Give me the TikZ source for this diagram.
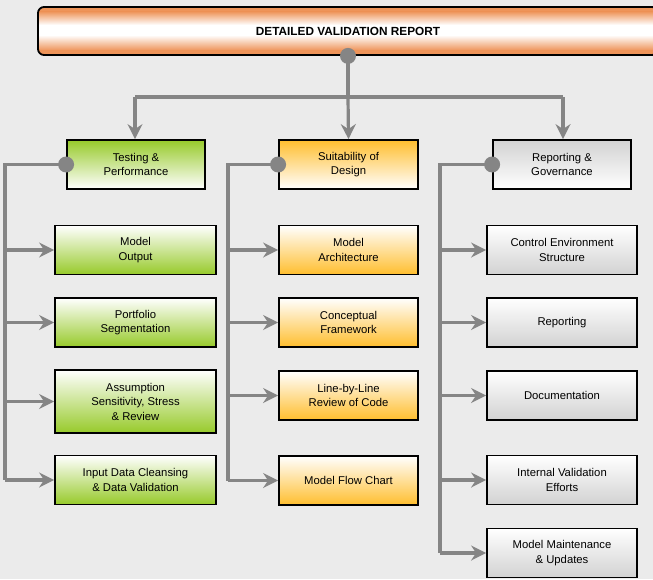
\documentclass[tikz,border=0pt]{standalone}
\usepackage{fontspec}
\setmainfont{Liberation Sans}
\usetikzlibrary{arrows.meta}
\definecolor{bg}{HTML}{EBEBEB}
\definecolor{lnk}{HTML}{858585}
\definecolor{orng}{HTML}{EE9459}
\definecolor{grn}{HTML}{97CA2A}
\definecolor{gold}{HTML}{FFBE2E}
\definecolor{gry}{HTML}{D2D2D2}
\tikzset{
  box/.style={draw=black, line width=1.8pt, minimum height=49pt, align=center, font=\fontsize{11.3}{14.5}\selectfont, inner sep=1pt},
  hgreen/.style={box, top color=grn, bottom color=white, minimum width=138pt},
  cgreen/.style={box, top color=white, bottom color=grn, minimum width=161pt},
  horange/.style={box, top color=gold, bottom color=white, minimum width=139pt},
  corange/.style={box, top color=white, bottom color=gold, minimum width=139pt},
  hgray/.style={box, top color=gry, bottom color=white, minimum width=138pt},
  cgray/.style={box, top color=white, bottom color=gry, minimum width=150pt},
  link/.style={draw=lnk, line width=3.2pt, -{Stealth[length=15pt,width=15pt,inset=5pt]}},
  plain/.style={draw=lnk, line width=3.2pt},
  dot/.style={circle, fill=lnk, minimum size=16pt, inner sep=0pt}
}
\begin{document}
\begin{tikzpicture}[x=1pt,y=-1pt]
\fill[bg] (0,0) rectangle (653,579);
\useasboundingbox (0,0) rectangle (653,579);
% top box shading
\begin{scope}
  \clip[rounded corners=6pt] (38,7) rectangle (658,55);
  \fill[orng] (38,7) rectangle (658,12);
  \shade[top color=orng, bottom color=white] (38,11.5) rectangle (658,25);
  \fill[white] (38,24.5) rectangle (658,35.5);
  \shade[top color=white, bottom color=orng] (38,35) rectangle (658,50.5);
  \fill[orng] (38,50) rectangle (658,55);
\end{scope}
\node[draw=black, line width=1.8pt, rounded corners=6pt, minimum width=620pt, minimum height=48pt,
  font=\bfseries\fontsize{11.8}{14}\selectfont] (top) at (348,31) {DETAILED VALIDATION REPORT};
% headers
\node[hgreen] (h1) at (136,164.5) {Testing \&\\Performance};
\node[horange] (h2) at (348.5,164.5) {Suitability of\\Design};
\node[hgray] (h3) at (562,164.5) {Reporting \&\\Governance};
% column 1 children
\node[cgreen] (a1) at (135.5,250) {Model\\Output};
\node[cgreen] (a2) at (135.5,322.5) {Portfolio\\Segmentation};
\node[cgreen, minimum height=63pt] (a3) at (135.5,401.5) {Assumption\\Sensitivity, Stress\\\& Review};
\node[cgreen] (a4) at (135.5,480) {Input Data Cleansing\\\& Data Validation};
% column 2 children
\node[corange] (b1) at (348.5,250) {Model\\Architecture};
\node[corange] (b2) at (348.5,322.5) {Conceptual\\Framework};
\node[corange] (b3) at (348.5,395.5) {Line-by-Line\\Review of Code};
\node[corange] (b4) at (348.5,480.5) {Model Flow Chart};
% column 3 children
\node[cgray] (c1) at (562,250) {Control Environment\\Structure};
\node[cgray] (c2) at (562,322.5) {Reporting};
\node[cgray] (c3) at (562,395.5) {Documentation};
\node[cgray] (c4) at (562,480) {Internal Validation\\Efforts};
\node[cgray] (c5) at (562,553) {Model Maintenance\\\& Updates};
% top connectors
\coordinate (j0) at (348,97);
\draw[plain] (top.south) -- (j0);
\draw[plain] (135,97) -- (563,97);
\draw[link] (j0) -- (h2.north);
\draw[link] (135,97) -- (h1.north -| 135,0);
\draw[link] (563,97) -- (h3.north -| 563,0);
\node[dot] at (top.south) {};
% column 1
\coordinate (v1) at (5,164.5);
\draw[plain] (h1.west) -- (v1) -- (5,480);
\foreach \n in {a1,a2,a3,a4} \draw[link] (\n.west -| v1) -- (\n.west);
\node[dot] at (h1.west) {};
% column 2
\coordinate (v2) at (228,164.5);
\draw[plain] (h2.west) -- (v2) -- (228,480.5);
\foreach \n in {b1,b2,b3,b4} \draw[link] (\n.west -| v2) -- (\n.west);
\node[dot] at (h2.west) {};
% column 3
\coordinate (v3) at (440,164.5);
\draw[plain] (h3.west) -- (v3) -- (440,553);
\foreach \n in {c1,c2,c3,c4,c5} \draw[link] (\n.west -| v3) -- (\n.west);
\node[dot] at (h3.west) {};
\end{tikzpicture}
\end{document}
